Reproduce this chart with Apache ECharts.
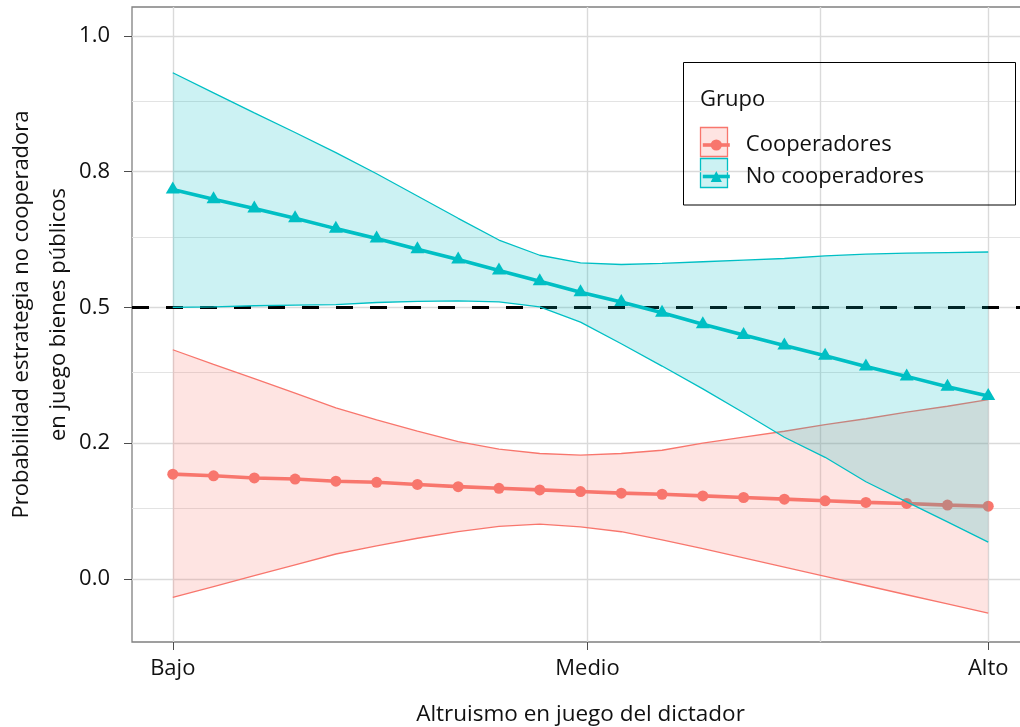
<!DOCTYPE html>
<html>
<head>
<meta charset="utf-8">
<script src="https://cdn.jsdelivr.net/npm/echarts@6/dist/echarts.min.js"></script>
<style>html,body{margin:0;padding:0;background:#fff}#c{width:1020px;height:727px}</style>
</head>
<body>
<div id="c"></div>
<script>
// ---- data ----
const xVals = [0,1,2,3,4,5,6,7,8,9,10,11,12,13,14,15,16,17,18,19,20];
const coopMean  = [0.193,0.190,0.186,0.184,0.180,0.178,0.174,0.170,0.167,0.164,0.161,0.158,0.156,0.153,0.150,0.147,0.144,0.141,0.139,0.136,0.134];
const coopUpper = [0.422,0.395,0.369,0.342,0.315,0.293,0.272,0.253,0.239,0.231,0.228,0.231,0.237,0.250,0.261,0.272,0.284,0.295,0.307,0.318,0.330];
const coopLower = [-0.034,-0.014,0.006,0.026,0.046,0.061,0.075,0.087,0.097,0.101,0.096,0.087,0.072,0.056,0.039,0.022,0.005,-0.012,-0.029,-0.046,-0.063];
const noMean  = [0.717,0.699,0.682,0.664,0.645,0.627,0.607,0.588,0.568,0.548,0.528,0.510,0.490,0.469,0.449,0.430,0.411,0.391,0.373,0.354,0.337];
const noUpper = [0.932,0.895,0.858,0.822,0.785,0.746,0.705,0.664,0.624,0.596,0.582,0.579,0.581,0.584,0.587,0.590,0.595,0.598,0.600,0.601,0.602];
const noLower = [0.500,0.501,0.503,0.504,0.505,0.509,0.511,0.512,0.510,0.501,0.473,0.433,0.392,0.350,0.306,0.261,0.224,0.179,0.142,0.105,0.068];
const xTickValues = [0, 10.17, 20];
const xTickLabels = ['Bajo', 'Medio', 'Alto'];
const xGridValues = [0, 10.17, 15.89, 20];
const yTickValues = [0, 0.25, 0.5, 0.75, 1];
const yTickLabels = ['0.0', '0.2', '0.5', '0.8', '1.0'];
const yMinorValues = [0.125, 0.375, 0.625, 0.875];
const refValue = 0.5;
const groupNames = ['Cooperadores', 'No cooperadores'];
const legendTitle = 'Grupo';

// ---- styling ----
const RED = '#F8766D', TEAL = '#00BFC4';
const RED_FILL = 'rgba(248,118,109,0.2)', TEAL_FILL = 'rgba(0,191,196,0.2)';
const FONT = '"Open Sans", "Noto Sans", sans-serif';
const TXT = '#111111';

const pairs = (ys) => xVals.map((x, i) => [x, ys[i]]);

function ribbon(name, lower, upper, fill, z) {
  return {
    type: 'custom', name: name, z: z, silent: true,
    data: [[xVals[0], lower[0]]],
    renderItem: function (params, api) {
      const pts = [];
      for (let i = 0; i < xVals.length; i++) pts.push(api.coord([xVals[i], upper[i]]));
      for (let i = xVals.length - 1; i >= 0; i--) pts.push(api.coord([xVals[i], lower[i]]));
      return { type: 'polygon', shape: { points: pts }, style: { fill: fill } };
    }
  };
}
function edge(name, ys, color, z, extra) {
  return Object.assign({
    type: 'line', name: name, z: z, data: pairs(ys), symbol: 'none', showSymbol: false,
    silent: true, lineStyle: { color: color, width: 1.3 }, itemStyle: { color: color }
  }, extra || {});
}
function legendFor(name, top) {
  return {
    data: [name], orient: 'vertical', left: 701, top: top, padding: 0,
    itemWidth: 27, itemHeight: 14, selectedMode: false,
    lineStyle: { width: 3.6 },
    textStyle: { fontSize: 22, color: TXT, fontFamily: FONT, padding: [7, 0, 0, 11] }
  };
}

const gridLines = [];
yTickValues.forEach(v => gridLines.push({ yAxis: v, lineStyle: { color: '#dadada', width: 1.4, type: 'solid' } }));
yMinorValues.forEach(v => gridLines.push({ yAxis: v, lineStyle: { color: '#e3e3e3', width: 1.1, type: 'solid' } }));
xGridValues.forEach(v => gridLines.push({ xAxis: v, lineStyle: { color: '#dadada', width: 1.4, type: 'solid' } }));

const chart = echarts.init(document.getElementById('c'), null, { renderer: 'canvas' });
chart.setOption({
  animation: false,
  backgroundColor: '#fff',
  textStyle: { fontFamily: FONT },
  grid: { left: 132, right: -9, top: 7, bottom: 85, show: true, borderColor: '#808080', borderWidth: 1.3, backgroundColor: 'transparent', outerBoundsMode: 'none', containLabel: false },
  xAxis: {
    type: 'value', min: -1, max: 21,
    name: 'Altruismo en juego del dictador', nameLocation: 'middle', nameGap: 61, nameMoveOverlap: false,
    nameTextStyle: { fontSize: 22.5, color: TXT, fontFamily: FONT },
    splitLine: { show: false }, minorSplitLine: { show: false },
    axisLine: { show: false, onZero: false },
    axisTick: { show: true, customValues: xTickValues, length: 8, lineStyle: { color: '#4d4d4d', width: 1 } },
    axisLabel: { show: true, customValues: xTickValues, margin: 16, fontSize: 22, color: TXT, fontFamily: FONT,
      formatter: v => { const i = xTickValues.indexOf(v); return i >= 0 ? xTickLabels[i] : ''; } }
  },
  yAxis: {
    type: 'value', min: -0.116, max: 1.053,
    name: 'Probabilidad estrategia no cooperadora\nen juego bienes públicos', nameLocation: 'middle', nameGap: 55, nameMoveOverlap: false,
    nameTextStyle: { fontSize: 22, lineHeight: 37, color: TXT, fontFamily: FONT, padding: [0, 0, 0, 20] },
    splitLine: { show: false }, minorSplitLine: { show: false },
    axisLine: { show: false, onZero: false },
    axisTick: { show: true, customValues: yTickValues, length: 8, lineStyle: { color: '#4d4d4d', width: 1 } },
    axisLabel: { show: true, customValues: yTickValues, margin: 22, fontSize: 22, color: TXT, fontFamily: FONT,
      formatter: v => { const i = yTickValues.indexOf(v); return i >= 0 ? yTickLabels[i] : ''; } }
  },
  legend: [legendFor(groupNames[0], 134), legendFor(groupNames[1], 165.5)],
  graphic: [
    { type: 'rect', z: 10, shape: { x: 683.5, y: 62.5, width: 332, height: 142.5 }, style: { fill: 'none', stroke: '#000', lineWidth: 1 } },
    { type: 'text', z: 10, x: 700, y: 99.5, style: { text: legendTitle, fontSize: 22, fontFamily: FONT, fill: TXT, verticalAlign: 'middle' } },
    { type: 'rect', z: 1, shape: { x: 700.5, y: 127.5, width: 27, height: 29 }, style: { fill: RED_FILL, stroke: RED, lineWidth: 1.3 } },
    { type: 'rect', z: 1, shape: { x: 700.5, y: 158.5, width: 27, height: 29 }, style: { fill: TEAL_FILL, stroke: TEAL, lineWidth: 1.3 } }
  ],
  series: [
    ribbon('Cooperadores IC', coopLower, coopUpper, RED_FILL, 2),
    edge('Cooperadores IC inf', coopLower, RED, 2, {
      markLine: { silent: true, symbol: 'none', z: 1, label: { show: false }, emphasis: { disabled: true }, data: gridLines }
    }),
    edge('Cooperadores IC sup', coopUpper, RED, 2, {
      markLine: { silent: true, symbol: 'none', z: 4, label: { show: false }, emphasis: { disabled: true },
        data: [{ yAxis: refValue, lineStyle: { color: '#000', width: 3.2, type: [17, 17] } }] }
    }),
    {
      type: 'line', name: groupNames[0], z: 3, data: pairs(coopMean),
      symbol: 'circle', symbolSize: 11, showSymbol: true,
      lineStyle: { color: RED, width: 3.6 }, itemStyle: { color: RED }
    },
    ribbon('No cooperadores IC', noLower, noUpper, TEAL_FILL, 5),
    edge('No cooperadores IC inf', noLower, TEAL, 5),
    edge('No cooperadores IC sup', noUpper, TEAL, 5),
    {
      type: 'line', name: groupNames[1], z: 6, data: pairs(noMean),
      symbol: 'triangle', symbolSize: [14, 12], symbolOffset: [0, -2], showSymbol: true,
      lineStyle: { color: TEAL, width: 3.6 }, itemStyle: { color: TEAL }
    }
  ]
});
</script>
</body>
</html>
